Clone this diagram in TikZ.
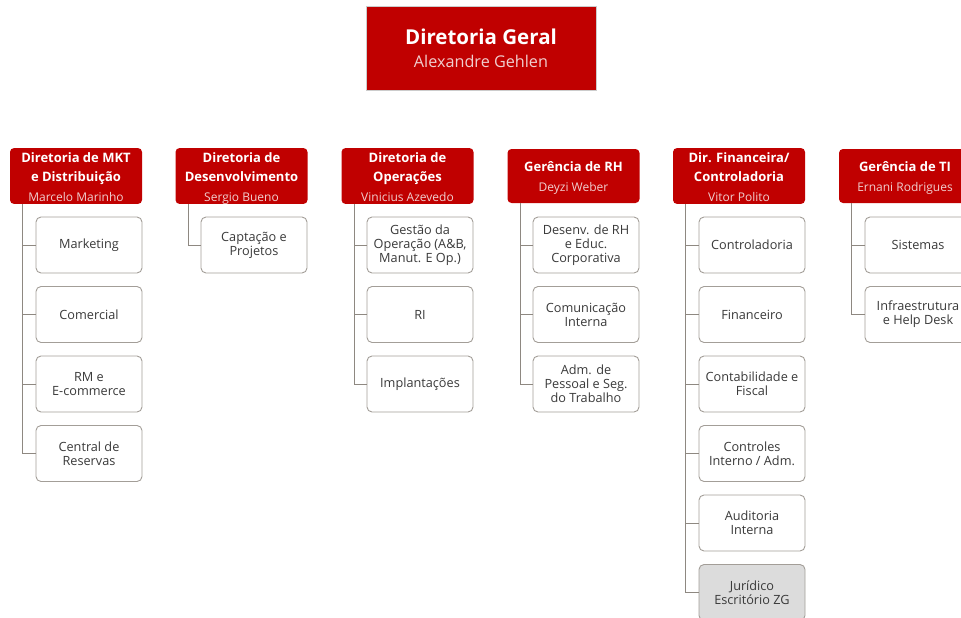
\documentclass[tikz,border=0pt]{standalone}
\usepackage{fontspec}
\setmainfont{Open Sans}
\usetikzlibrary{calc}
\definecolor{hred}{HTML}{C00000}
\definecolor{nametxt}{HTML}{F0CFCF}
\definecolor{linec}{HTML}{8E8881}
\definecolor{boxc}{HTML}{A39E98}
\definecolor{subtxt}{HTML}{3A3A3A}
\definecolor{grayfill}{HTML}{DCDCDC}
\tikzset{
  hdr/.style={fill=hred, rounded corners=4pt, text=white, align=center,
    minimum width=132pt, minimum height=54pt, inner sep=0pt,
    font=\fontsize{13}{19.5}\selectfont\bfseries},
  sub/.style={draw=boxc, line width=0.9pt, rounded corners=5pt, fill=white, text=subtxt, align=center,
    minimum width=106pt, minimum height=56pt, inner sep=0pt,
    font=\fontsize{12.7}{14}\selectfont},
  conn/.style={draw=linec, line width=1pt},
}
\newcommand{\nm}[1]{{\fontsize{12}{19.5}\selectfont\mdseries\color{nametxt}#1\vphantom{g}}}
\newcommand{\tp}{\rule{0pt}{14pt}}
\begin{document}
\begin{tikzpicture}[x=1pt,y=-1pt]
\useasboundingbox (0,0) rectangle (961,618);
% top
\node[fill=hred, draw=black!20, line width=1pt, minimum width=230pt, minimum height=83pt, align=center, inner sep=0pt,
  font=\fontsize{16.2}{23}\selectfont]
  (top) at (481,48.5) {{\fontsize{20.5}{23}\selectfont\bfseries\color{white}Diretoria Geral}\\{\color{nametxt}Alexandre Gehlen}};
% headers
\node[hdr] (mkt) at (76,176) {\tp Diretoria de MKT\\e Distribuição\\\nm{Marcelo Marinho}};
\node[hdr] (dev) at (241.5,176) {\tp Diretoria de\\Desenvolvimento\\\nm{Sergio Bueno}};
\node[hdr] (ops) at (407.5,176) {\tp Diretoria de\\Operações\\\nm{Vinicius Azevedo}};
\node[hdr] (rh) at (573.5,176) {\tp Gerência de RH\\\nm{Deyzi Weber}};
\node[hdr] (fin) at (739,176) {\tp Dir. Financeira/\\Controladoria\\\nm{Vitor Polito}};
\node[hdr] (ti) at (905,176) {\tp Gerência de TI\\\nm{Ernani Rodrigues}};
% MKT subs
\node[sub] (mkt1) at (89,245) {Marketing};
\node[sub] (mkt2) at (89,314.5) {Comercial};
\node[sub] (mkt3) at (89,384) {RM e\\E-commerce};
\node[sub] (mkt4) at (89,453.5) {Central de\\Reservas};
% Desenv
\node[sub] (dev1) at (254,245) {Captação e\\Projetos};
% Ops
\node[sub] (ops1) at (420,245) {Gestão da\\Operação (A\&B,\\Manut. E Op.)};
\node[sub] (ops2) at (420,314.5) {RI};
\node[sub] (ops3) at (420,384) {Implantações};
% RH
\node[sub] (rh1) at (586,245) {Desenv. de RH\\e Educ.\\Corporativa};
\node[sub] (rh2) at (586,314.5) {Comunicação\\Interna};
\node[sub] (rh3) at (586,384) {Adm. de\\Pessoal e Seg.\\do Trabalho};
% Fin
\node[sub] (fin1) at (752,245) {Controladoria};
\node[sub] (fin2) at (752,314.5) {Financeiro};
\node[sub] (fin3) at (752,384) {Contabilidade e\\Fiscal};
\node[sub] (fin4) at (752,453.5) {Controles\\Interno / Adm.};
\node[sub] (fin5) at (752,523) {Auditoria\\Interna};
\node[sub, fill=grayfill] (fin6) at (752,592.5) {Jurídico\\Escritório ZG};
% TI
\node[sub] (ti1) at (918,245) {Sistemas};
\node[sub] (ti2) at (918,314.5) {Infraestrutura\\e Help Desk};
% connectors
\foreach \h/\n in {mkt/4,dev/1,ops/3,rh/3,fin/6,ti/2}{
  \foreach \i in {1,...,\n}{
    \draw[conn] ($(\h.south west)+(13,0)$) |- (\h\i.west);
  }
}
\end{tikzpicture}
\end{document}
